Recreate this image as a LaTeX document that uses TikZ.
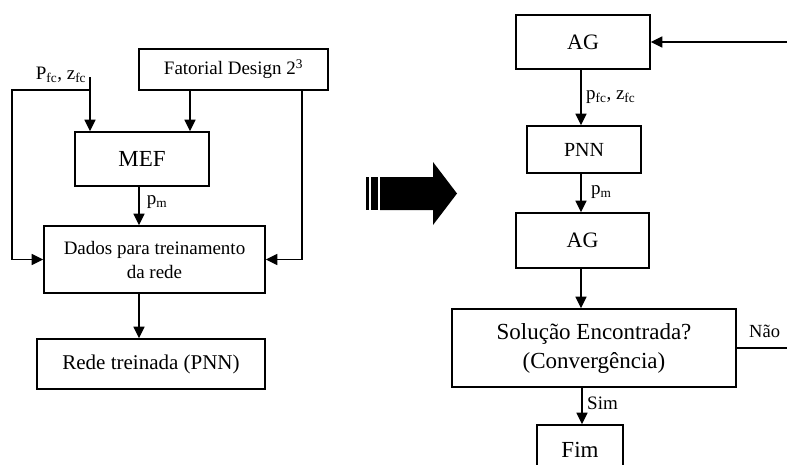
\documentclass[tikz,border=0pt]{standalone}
\usepackage{fontspec}
\setmainfont{Liberation Serif}
\usetikzlibrary{arrows.meta}
\tikzset{
  box/.style={draw=black, line width=1.6pt, rectangle, inner sep=0pt, align=center},
  arr/.style={line width=1.4pt, -{Triangle[length=11.5pt,width=11pt]}},
  ln/.style={line width=1.4pt},
  lbl/.style={inner sep=0pt, align=center},
  fs/.style={font=\fontsize{#1}{#1}\selectfont}
}
\begin{document}
\begin{tikzpicture}[x=1pt,y=-1pt]
\useasboundingbox (0,0) rectangle (787,464);
% left flow
\node[box, fs=19, minimum width=189pt, minimum height=41pt] (fat) at (233.5,69.5) {Fatorial Design 2\textsuperscript{3}};
\node[box, fs=23, minimum width=134pt, minimum height=54pt] (mef) at (142,159) {MEF};
\node[box, font=\fontsize{19}{24}\selectfont, minimum width=221pt, minimum height=67pt] (dados) at (154.5,259.5) {Dados para treinamento\\da rede};
\node[box, fs=21, minimum width=228pt, minimum height=50pt] (rede) at (151,364) {Rede treinada (PNN)};
\node[lbl, fs=19] (pfc) at (61,75) {P\textsubscript{fc}, z\textsubscript{fc}};
\node[lbl, fs=19] (pm1) at (157,202) {p\textsubscript{m}};
\coordinate (pt) at (90,77);
\coordinate (jn) at (90,90);
\coordinate (lc) at (12,90);
\coordinate (xa) at (190,0);
\coordinate (xb) at (302,0);
\coordinate (xc) at (139,0);
\draw[arr] (pt) -- (mef.north -| pt);
\draw[arr] (jn) -- (lc) |- (dados.west);
\draw[arr] (fat.south -| xa) -- (mef.north -| xa);
\draw[arr] (fat.south -| xb) |- (dados.east);
\draw[arr] (mef.south -| xc) -- (dados.north -| xc);
\draw[arr] (dados.south -| xc) -- (rede.north -| xc);
% big arrow
\fill (380,177) -- (433,177) -- (433,162) -- (457,193.5) -- (433,225) -- (433,210) -- (380,210) -- cycle;
\fill (365.8,177) rectangle (369.2,210);
\fill (371,177) rectangle (378,210);
% right flow
\node[box, fs=22, minimum width=134pt, minimum height=54pt] (ag1) at (583,42) {AG};
\node[box, fs=20, minimum width=114pt, minimum height=47pt] (pnn) at (584,149.5) {PNN};
\node[box, fs=22, minimum width=133pt, minimum height=55pt] (ag2) at (582.5,240.5) {AG};
\node[box, font=\fontsize{23}{29}\selectfont, minimum width=284pt, minimum height=78pt] (sol) at (594,348) {Solução Encontrada?\\(Convergência)};
\node[box, fs=23, minimum width=86pt, minimum height=50pt] (fim) at (580,450) {Fim};
\node[lbl, fs=19, anchor=west] (pfc2) at (586,97) {p\textsubscript{fc}, z\textsubscript{fc}};
\node[lbl, fs=19, anchor=west] (pm2) at (591,192) {p\textsubscript{m}};
\node[lbl, fs=19, anchor=west] (sim) at (587,403) {Sim};
\node[lbl, fs=18.5, anchor=west] (nao) at (749,331) {Não};
\coordinate (rt) at (787,42);
\coordinate (rn) at (787,348);
\coordinate (xr) at (581,0);
\coordinate (xs) at (582,0);
\draw[arr] (rt) -- (ag1.east);
\draw[arr] (ag1.south -| xr) -- (pnn.north -| xr);
\draw[arr] (pnn.south -| xr) -- (ag2.north -| xr);
\draw[arr] (ag2.south -| xr) -- (sol.north -| xr);
\draw[arr] (sol.south -| xs) -- (fim.north -| xs);
\draw[ln] (sol.east) -- (rn);
\end{tikzpicture}
\end{document}
